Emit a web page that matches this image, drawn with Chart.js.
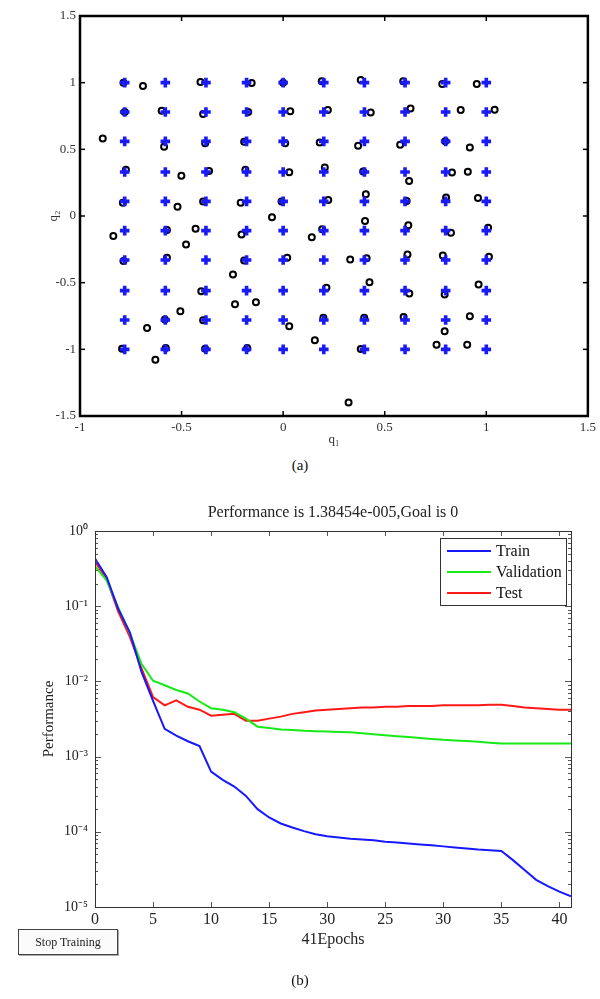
<!DOCTYPE html>
<html><head><meta charset="utf-8">
<script src="https://cdn.jsdelivr.net/npm/chart.js@4.4.1/dist/chart.umd.min.js"></script>
<style>
html,body{margin:0;padding:0;background:#fff;width:600px;height:999px;overflow:hidden;font-family:"Liberation Serif","Times New Roman",serif}
canvas{position:absolute;left:0}
.cap{position:absolute;font-size:15px;color:#111;width:60px;text-align:center;line-height:18px}
#btn{position:absolute;left:18px;top:929px;width:98px;height:24px;border:1px solid #444;box-shadow:1px 1px 0 #aaa;font-size:12px;line-height:24px;text-align:center;background:#fbfbfb;color:#222}
</style></head>
<body>
<canvas id="cA" width="600" height="450" style="top:0"></canvas>
<canvas id="cB" width="600" height="519" style="top:480px"></canvas>
<div class="cap" style="left:270px;top:456px">(a)</div>
<div class="cap" style="left:270px;top:971px">(b)</div>
<div id="btn">Stop Training</div>
<script>
// ---------- Chart (a) data ----------
const gridX = [-0.78, -0.58, -0.38, -0.18, 0.0, 0.2, 0.4, 0.6, 0.8, 1.0];
const gridY = [1.0, 0.78, 0.56, 0.33, 0.11, -0.11, -0.33, -0.56, -0.78, -1.0];
const circX = [
 -0.786,-0.69,-0.407,-0.155,0.0,0.19,0.382,0.591,0.783,0.953,
 -0.78,-0.598,-0.394,-0.172,0.035,0.22,0.431,0.627,0.874,1.041,
 -0.888,-0.586,-0.384,-0.192,0.01,0.18,0.369,0.576,0.798,0.919,
 -0.774,-0.501,-0.365,-0.186,0.03,0.205,0.394,0.62,0.831,0.909,
 -0.789,-0.52,-0.394,-0.209,-0.008,0.222,0.407,0.608,0.802,0.959,
 -0.836,-0.572,-0.431,-0.205,-0.055,0.192,0.141,0.403,0.616,0.826,1.009,-0.478,
 -0.786,-0.572,-0.192,0.02,0.33,0.411,0.612,0.786,1.013,-0.247,
 -0.403,0.213,0.425,0.621,0.795,0.962,-0.237,-0.134,-0.506,
 -0.67,-0.582,-0.394,0.03,0.198,0.399,0.593,0.919,0.795,
 -0.793,-0.629,-0.578,-0.384,-0.177,0.156,0.382,0.755,0.906,0.322
];
const circY = [
 1.0,0.975,1.005,0.997,1.0,1.01,1.02,1.01,0.99,0.99,
 0.78,0.79,0.765,0.78,0.785,0.795,0.777,0.807,0.795,0.797,
 0.581,0.519,0.546,0.556,0.546,0.551,0.526,0.534,0.561,0.514,
 0.346,0.301,0.338,0.346,0.328,0.363,0.333,0.263,0.326,0.331,
 0.1,0.07,0.108,0.1,0.108,0.12,0.163,0.113,0.138,0.135,
 -0.15,-0.105,-0.095,-0.138,-0.01,-0.1,-0.16,-0.038,-0.07,-0.125,-0.088,-0.213,
 -0.338,-0.313,-0.333,-0.313,-0.326,-0.316,-0.288,-0.296,-0.306,-0.439,
 -0.564,-0.539,-0.496,-0.581,-0.589,-0.514,-0.662,-0.647,-0.714,
 -0.84,-0.777,-0.782,-0.827,-0.764,-0.764,-0.757,-0.752,-0.865,
 -0.995,-1.078,-0.99,-0.995,-0.99,-0.932,-0.997,-0.965,-0.965,-1.398
];
const xTicksA = [-1, -0.5, 0, 0.5, 1, 1.5];
const yTicksA = [-1.5, -1, -0.5, 0, 0.5, 1, 1.5];

// ---------- Chart (b) data ----------
const epochs = [0,1,2,3,4,5,6,7,8,9,10,11,12,13,14,15,16,17,18,19,20,21,22,23,24,25,26,27,28,29,30,31,32,33,34,35,36,37,38,39,40,41];
const trainPerf = [0.43,0.245,0.092,0.045,0.0135,0.0055,0.00234,0.0019,0.0016,0.00138,
 0.00063,0.00049,0.0004,0.0003,0.0002,0.000155,0.000129,0.000114,0.000102,0.000093,
 0.000087,0.000084,0.000081,0.000079,0.000077,0.000074,0.000072,0.00007,0.000068,0.000066,
 0.000064,0.000062,0.00006,0.000058,0.000057,0.0000555,0.000042,0.000031,0.000023,0.000019,
 0.000016,0.0000138454];
const valPerf = [0.34,0.22,0.096,0.044,0.0172,0.0102,0.0089,0.0077,0.0069,0.0054,
 0.0044,0.0042,0.0039,0.0032,0.0025,0.0024,0.0023,0.00225,0.0022,0.00218,
 0.00216,0.00213,0.0021,0.00204,0.00198,0.00192,0.00187,0.00182,0.00177,0.00172,
 0.00167,0.00164,0.00161,0.00158,0.00153,0.00149,0.00149,0.00149,0.00149,0.00149,
 0.00149,0.00149];
const testPerf = [0.39,0.23,0.085,0.039,0.015,0.0062,0.0048,0.0056,0.0046,0.0042,
 0.0035,0.0036,0.0037,0.003,0.003,0.0032,0.0034,0.0037,0.0039,0.0041,
 0.0042,0.0043,0.0044,0.0045,0.0045,0.0046,0.0046,0.0047,0.0047,0.0047,
 0.0048,0.0048,0.0048,0.0048,0.0049,0.0049,0.0047,0.0045,0.0044,0.0043,
 0.0042,0.0042];
const xTickValsB = [0,5,10,15,20,25,30,35,40];
const xTickLabelsB = ['0','5','10','15','30','25','30','35','40'];
const yTickValsB = [1e-5,1e-4,1e-3,1e-2,1e-1,1];
const yTickLabelsB = ['10\u207B\u2075','10\u207B\u2074','10\u207B\u00B3','10\u207B\u00B2','10\u207B\u00B9','10\u2070'];
const seriesNames = ['Train','Validation','Test'];
const seriesColors = ['#1818ff','#18ea18','#ff1818'];
const titleB = 'Performance is 1.38454e-005,Goal is 0';

const SERIF = '"Liberation Serif","Times New Roman",serif';

// ---------- Chart (a) ----------
const gridPts = [];
gridY.forEach(y => gridX.forEach(x => gridPts.push({x, y})));
const circPts = circX.map((x, i) => ({x, y: circY[i]}));

function ln(ctx, x1, y1, x2, y2){ctx.beginPath();ctx.moveTo(x1,y1);ctx.lineTo(x2,y2);ctx.stroke();}

const frameA = {
  id: 'frameA',
  afterDatasetsDraw(chart){
    const {ctx, chartArea: a, scales: {x, y}} = chart;
    ctx.save();
    ctx.strokeStyle = '#000';
    ctx.lineWidth = 1.5;
    x.ticks.forEach(t => {const p = x.getPixelForValue(t.value); ln(ctx,p,a.bottom,p,a.bottom-5); ln(ctx,p,a.top,p,a.top+5);});
    y.ticks.forEach(t => {const p = y.getPixelForValue(t.value); ln(ctx,a.left,p,a.left+5,p); ln(ctx,a.right,p,a.right-5,p);});
    ctx.lineWidth = 2.5;
    ctx.strokeRect(a.left, a.top, a.right - a.left, a.bottom - a.top);
    ctx.restore();
  }
};

new Chart(document.getElementById('cA'), {
  type: 'scatter',
  data: {datasets: [
    {label: 'grid', data: gridPts, pointStyle: 'cross', pointRadius: 4.8, borderWidth: 3.6, borderColor: '#1a1af5', backgroundColor: '#1a1af5'},
    {label: 'mapped', data: circPts, pointStyle: 'circle', pointRadius: 3.0, borderWidth: 2, borderColor: '#000', backgroundColor: 'rgba(0,0,0,0)'}
  ]},
  options: {
    responsive: false, animation: false, events: [],
    layout: {padding: {left: 0, right: 12, top: 16, bottom: 0}},
    plugins: {legend: {display: false}, tooltip: {enabled: false}},
    scales: {
      x: {type: 'linear', min: -1, max: 1.5,
        afterBuildTicks: s => {s.ticks = xTicksA.map(v => ({value: v}));},
        afterFit: s => {s.height = 34;},
        grid: {display: false, drawTicks: false}, border: {display: false},
        ticks: {padding: 4, color: '#333', font: {family: SERIF, size: 13}, callback: v => String(v)},
        title: {display: true, text: 'q\u2081', color: '#333', font: {family: SERIF, size: 13}, padding: {top: 0, bottom: 3}}},
      y: {type: 'linear', min: -1.5, max: 1.5,
        afterBuildTicks: s => {s.ticks = yTicksA.map(v => ({value: v}));},
        afterFit: s => {s.width = 80;},
        grid: {display: false, drawTicks: false}, border: {display: false},
        ticks: {padding: 4, color: '#333', font: {family: SERIF, size: 13}, callback: v => String(v)},
        title: {display: true, text: 'q\u2082', color: '#333', font: {family: SERIF, size: 13}, padding: {top: 46, bottom: 0}}}
    }
  },
  plugins: [frameA]
});

// ---------- Chart (b) ----------
const frameB = {
  id: 'frameB',
  afterDatasetsDraw(chart){
    const {ctx, chartArea: a, scales: {x, y}} = chart;
    ctx.save();
    ctx.strokeStyle = '#555';
    ctx.lineWidth = 1;
    x.ticks.forEach(t => {const p = Math.round(x.getPixelForValue(t.value))+0.5; ln(ctx,p,a.bottom,p,a.bottom-5); ln(ctx,p,a.top,p,a.top+5);});
    yTickValsB.forEach((d, i) => {
      const p = Math.round(y.getPixelForValue(d))+0.5;
      ln(ctx,a.left,p,a.left+6,p); ln(ctx,a.right,p,a.right-6,p);
      if (i < yTickValsB.length - 1) {
        for (let k = 2; k <= 9; k++) {
          const q = Math.round(y.getPixelForValue(d * k))+0.5;
          ln(ctx,a.left,q,a.left+3,q); ln(ctx,a.right,q,a.right-3,q);
        }
      }
    });
    ctx.strokeStyle = '#333';
    ctx.strokeRect(Math.round(a.left)+0.5, Math.round(a.top)+0.5, Math.round(a.right-a.left), Math.round(a.bottom-a.top));
    // title
    ctx.fillStyle = '#222';
    ctx.font = '16px ' + SERIF;
    ctx.textAlign = 'center'; ctx.textBaseline = 'middle';
    ctx.fillText(titleB, (a.left + a.right) / 2, a.top - 18);
    // legend
    const bw = 126, bh = 67;
    const bx = a.right - 5 - bw, by = a.top + 7;
    ctx.fillStyle = '#fff';
    ctx.fillRect(bx, by, bw, bh);
    ctx.strokeStyle = '#333';
    ctx.strokeRect(Math.round(bx)+0.5, Math.round(by)+0.5, bw, bh);
    ctx.font = '16px ' + SERIF;
    ctx.textAlign = 'left';
    chart.data.datasets.forEach((ds, i) => {
      const yy = by + 13 + i * 21;
      ctx.strokeStyle = ds.borderColor; ctx.lineWidth = 2;
      ln(ctx, bx + 7, yy, bx + 51, yy);
      ctx.fillStyle = '#111';
      ctx.fillText(ds.label, bx + 56, yy + 1);
    });
    ctx.restore();
  }
};

const mk = arr => epochs.map((e, i) => ({x: e, y: arr[i]}));
new Chart(document.getElementById('cB'), {
  type: 'line',
  data: {datasets: [trainPerf, valPerf, testPerf].map((arr, i) => ({
    label: seriesNames[i], data: mk(arr), borderColor: seriesColors[i], backgroundColor: seriesColors[i],
    borderWidth: 2, pointRadius: 0, tension: 0, fill: false
  }))},
  options: {
    responsive: false, animation: false, events: [],
    layout: {padding: {left: 0, right: 29, top: 51, bottom: 47}},
    plugins: {legend: {display: false}, tooltip: {enabled: false}, title: {display: false}},
    scales: {
      x: {type: 'linear', min: 0, max: 41,
        afterBuildTicks: s => {s.ticks = xTickValsB.map(v => ({value: v}));},
        afterFit: s => {s.height = 45;},
        grid: {display: false, drawTicks: false}, border: {display: false},
        ticks: {padding: 3, color: '#222', font: {family: SERIF, size: 16}, callback: (v, i) => xTickLabelsB[i]},
        title: {display: true, text: '41Epochs', color: '#222', font: {family: SERIF, size: 16}, padding: {top: 0, bottom: 3}}},
      y: {type: 'logarithmic', min: 1e-5, max: 1,
        afterBuildTicks: s => {s.ticks = yTickValsB.map(v => ({value: v}));},
        afterFit: s => {s.width = 95;},
        grid: {display: false, drawTicks: false}, border: {display: false},
        ticks: {padding: 7, color: '#222', font: {family: SERIF, size: 14}, callback: (v, i) => yTickLabelsB[i]},
        title: {display: true, text: 'Performance', color: '#222', font: {family: SERIF, size: 15}, padding: {top: 40, bottom: 0}}}
    }
  },
  plugins: [frameB]
});
</script>
</body></html>
